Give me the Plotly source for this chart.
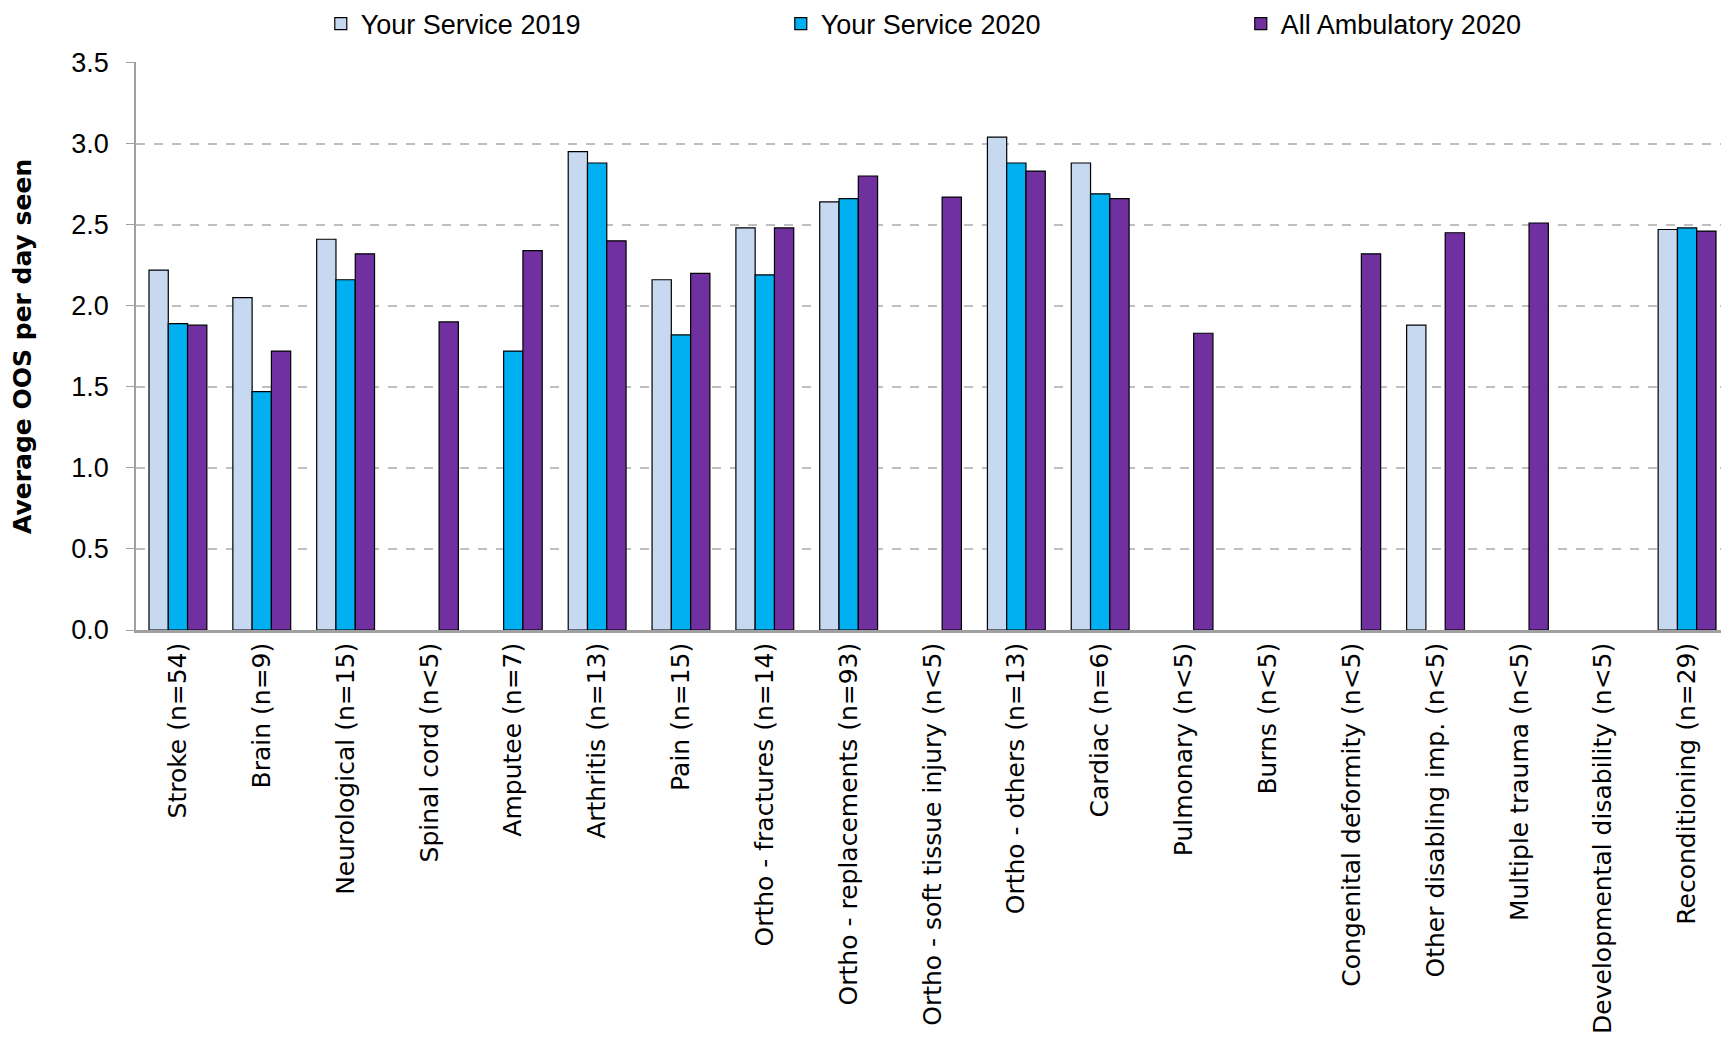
import plotly.graph_objects as go

categories = ["Stroke (n=54)", "Brain (n=9)", "Neurological (n=15)", "Spinal cord (n<5)",
              "Amputee (n=7)", "Arthritis (n=13)", "Pain (n=15)", "Ortho - fractures (n=14)",
              "Ortho - replacements (n=93)", "Ortho - soft tissue injury (n<5)", "Ortho - others (n=13)",
              "Cardiac (n=6)", "Pulmonary (n<5)", "Burns (n<5)", "Congenital deformity (n<5)",
              "Other disabling imp. (n<5)", "Multiple trauma (n<5)", "Developmental disability (n<5)",
              "Reconditioning (n=29)"]

service_2019 = [2.22, 2.05, 2.41, None, None, 2.95, 2.16, 2.48, 2.64, None, 3.04,
                2.88, None, None, None, 1.88, None, None, 2.47]
service_2020 = [1.89, 1.47, 2.16, None, 1.72, 2.88, 1.82, 2.19, 2.66, None, 2.88,
                2.69, None, None, None, None, None, None, 2.48]
all_amb_2020 = [1.88, 1.72, 2.32, 1.90, 2.34, 2.40, 2.20, 2.48, 2.80, 2.67, 2.83,
                2.66, 1.83, None, 2.32, 2.45, 2.51, None, 2.46]

y_ticks = [0.0, 0.5, 1.0, 1.5, 2.0, 2.5, 3.0, 3.5]

series = [
    ("Your Service 2019", service_2019, "#C6D9F1"),
    ("Your Service 2020", service_2020, "#00B0F0"),
    ("All Ambulatory 2020", all_amb_2020, "#7030A0"),
]

fig = go.Figure()
for name, vals, color in series:
    fig.add_trace(go.Bar(
        x=categories, y=vals, name=name,
        marker=dict(color=color, line=dict(color="black", width=1.2)),
    ))

fig.update_layout(
    width=1721, height=1037,
    plot_bgcolor="white", paper_bgcolor="white",
    barmode="group", bargap=0.31, bargroupgap=0,
    margin=dict(l=128, r=0, t=54, b=415, autoexpand=False),
    showlegend=True,
    legend=dict(orientation="h", x=0.116, xanchor="left", y=1.0669, yanchor="middle",
                font=dict(family="Liberation Sans", size=27, color="black"),
                entrywidth=415, entrywidthmode="pixels",
                itemwidth=30, traceorder="normal", tracegroupgap=0),
    yaxis=dict(
        range=[0, 3.503], tickvals=y_ticks, ticktext=[f"{v:.1f}" for v in y_ticks],
        showgrid=True, gridcolor="#BFBFBF", griddash="dash", gridwidth=1.5,
        showline=True, linecolor="#A0A0A0", linewidth=1.5,
        ticks="outside", ticklen=8, tickcolor="#A0A0A0", ticklabelstandoff=12,
        tickfont=dict(family="Liberation Sans", size=27, color="black"),
        zeroline=False, automargin=False,
    ),
    xaxis=dict(
        tickangle=-90, showline=True, linecolor="#A0A0A0", linewidth=2.5,
        tickfont=dict(family="DejaVu Sans", size=25, color="black"),
        ticks="", showgrid=False, automargin=False,
    ),
    annotations=[dict(
        text="<b>Average OOS per day seen</b>", textangle=-90,
        xref="paper", yref="paper", x=-0.0716, y=0.5, xanchor="center", yanchor="middle",
        showarrow=False, font=dict(family="DejaVu Sans", size=25, color="black"),
    )],
)

fig.write_html("out.html")
